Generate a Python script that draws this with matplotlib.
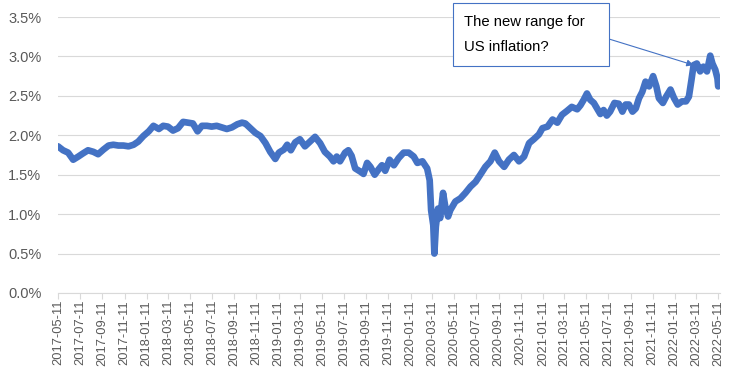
import numpy as np
import pandas as pd
import matplotlib
matplotlib.use("Agg")
import matplotlib.pyplot as plt
import matplotlib.dates as mdates
from matplotlib.ticker import PercentFormatter, MultipleLocator
from matplotlib.patches import Rectangle

# Fechas y valores (inflacion implicita, %)
fechas = [
    "2017-05-11", "2017-05-25", "2017-06-08", "2017-06-22", "2017-07-06", "2017-07-19",
    "2017-08-02", "2017-08-17", "2017-08-30", "2017-09-14", "2017-09-28", "2017-10-11",
    "2017-10-25", "2017-11-08", "2017-11-22", "2017-12-06", "2017-12-19", "2018-01-02",
    "2018-01-17", "2018-01-30", "2018-02-14", "2018-02-26", "2018-03-11", "2018-03-25",
    "2018-04-08", "2018-04-22", "2018-05-06", "2018-05-19", "2018-06-01", "2018-06-13",
    "2018-06-27", "2018-07-10", "2018-07-24", "2018-08-07", "2018-08-21", "2018-09-04",
    "2018-09-19", "2018-10-02", "2018-10-11", "2018-10-25", "2018-11-08", "2018-11-22",
    "2018-12-06", "2018-12-19", "2019-01-02", "2019-01-12", "2019-01-26", "2019-02-04",
    "2019-02-14", "2019-02-26", "2019-03-11", "2019-03-25", "2019-04-08", "2019-04-22",
    "2019-05-06", "2019-05-19", "2019-06-02", "2019-06-12", "2019-06-21", "2019-06-30",
    "2019-07-14", "2019-07-23", "2019-08-01", "2019-08-11", "2019-08-25", "2019-09-03",
    "2019-09-13", "2019-09-22", "2019-10-04", "2019-10-15", "2019-10-24", "2019-11-02",
    "2019-11-14", "2019-11-26", "2019-12-09", "2019-12-23", "2020-01-06", "2020-01-20",
    "2020-01-30", "2020-02-13", "2020-02-26", "2020-03-04", "2020-03-08", "2020-03-14",
    "2020-03-17", "2020-03-21", "2020-03-27", "2020-04-02", "2020-04-10", "2020-04-16",
    "2020-04-24", "2020-04-30", "2020-05-14", "2020-05-28", "2020-06-11", "2020-06-25",
    "2020-07-09", "2020-07-22", "2020-08-05", "2020-08-19", "2020-08-31", "2020-09-12",
    "2020-09-26", "2020-10-09", "2020-10-23", "2020-11-06", "2020-11-20", "2020-12-04",
    "2020-12-17", "2020-12-31", "2021-01-10", "2021-01-24", "2021-02-07", "2021-02-20",
    "2021-03-05", "2021-03-19", "2021-04-01", "2021-04-16", "2021-04-25", "2021-05-04",
    "2021-05-13", "2021-05-22", "2021-06-01", "2021-06-10", "2021-06-19", "2021-06-28",
    "2021-07-07", "2021-07-16", "2021-07-28", "2021-08-09", "2021-08-19", "2021-08-28",
    "2021-09-06", "2021-09-16", "2021-09-25", "2021-10-04", "2021-10-13", "2021-10-22",
    "2021-11-01", "2021-11-12", "2021-11-21", "2021-11-28", "2021-12-09", "2021-12-18",
    "2021-12-30", "2022-01-09", "2022-01-19", "2022-01-31", "2022-02-11", "2022-02-19",
    "2022-02-26", "2022-03-04", "2022-03-13", "2022-03-22", "2022-03-31", "2022-04-10",
    "2022-04-19", "2022-04-25", "2022-05-03", "2022-05-09", "2022-05-11",
]
valores = [
    1.86, 1.81, 1.78, 1.69, 1.73, 1.77,
    1.81, 1.79, 1.76, 1.82, 1.87, 1.88,
    1.87, 1.87, 1.86, 1.88, 1.92, 1.99,
    2.05, 2.12, 2.08, 2.12, 2.11, 2.06,
    2.09, 2.17, 2.16, 2.15, 2.05, 2.12,
    2.12, 2.11, 2.12, 2.10, 2.08, 2.10,
    2.14, 2.16, 2.15, 2.09, 2.03, 1.99,
    1.90, 1.79, 1.70, 1.78, 1.82, 1.88,
    1.81, 1.91, 1.95, 1.86, 1.92, 1.98,
    1.90, 1.79, 1.73, 1.67, 1.73, 1.67,
    1.78, 1.81, 1.74, 1.58, 1.54, 1.51,
    1.65, 1.60, 1.50, 1.57, 1.62, 1.55,
    1.69, 1.62, 1.71, 1.78, 1.78, 1.73,
    1.65, 1.67, 1.58, 1.43, 1.05, 0.86,
    0.50, 0.84, 1.07, 0.95, 1.27, 1.10,
    0.97, 1.05, 1.16, 1.20, 1.27, 1.35,
    1.41, 1.50, 1.60, 1.67, 1.78, 1.67,
    1.60, 1.69, 1.75, 1.67, 1.73, 1.90,
    1.95, 2.01, 2.09, 2.11, 2.20, 2.16,
    2.26, 2.31, 2.36, 2.33, 2.38, 2.45,
    2.53, 2.45, 2.41, 2.34, 2.27, 2.32,
    2.25, 2.30, 2.41, 2.40, 2.30, 2.39,
    2.39, 2.30, 2.34, 2.47, 2.55, 2.68,
    2.62, 2.75, 2.62, 2.47, 2.41, 2.49,
    2.58, 2.47, 2.39, 2.43, 2.43, 2.49,
    2.70, 2.89, 2.91, 2.81, 2.87, 2.81,
    3.01, 2.91, 2.83, 2.72, 2.62,
]

texto_nota = ["The new range for", "US inflation?"]
fecha_flecha = "2022-03-04"
valor_flecha = 2.89

fechas = pd.to_datetime(fechas)
azul = "#4472C4"
gris = "#595959"
plt.rcParams["font.family"] = ["Liberation Sans", "DejaVu Sans"]

fig = plt.figure(figsize=(7.36, 3.74), dpi=100)
ax = fig.add_axes([58 / 736, 1 - 293 / 374, 662 / 736, 276 / 374])

ax.plot(fechas, valores, color=azul, lw=4.8, solid_joinstyle="round",
        solid_capstyle="round", zorder=3)

# Ejes
ax.set_ylim(0, 3.5)
ax.yaxis.set_major_locator(MultipleLocator(0.5))
ax.yaxis.set_major_formatter(PercentFormatter(100, decimals=1))
ax.set_xlim(pd.Timestamp("2017-05-11"), pd.Timestamp("2022-05-16"))
ax.xaxis.set_major_locator(mdates.MonthLocator(bymonth=[1, 3, 5, 7, 9, 11], bymonthday=11))
ax.xaxis.set_major_formatter(mdates.DateFormatter("%Y-%m-%d"))
plt.setp(ax.get_xticklabels(), rotation=90)

ax.grid(axis="y", color="#D9D9D9", lw=0.8)
ax.set_axisbelow(True)
for s in ["top", "right", "left"]:
    ax.spines[s].set_visible(False)
ax.spines["bottom"].set_color("#D9D9D9")
ax.tick_params(axis="y", length=0, labelsize=10.5, labelcolor=gris, pad=12)
ax.tick_params(axis="x", length=4, color="#D9D9D9", labelsize=9.3, labelcolor=gris, pad=1)

# Cuadro de texto con flecha
caja = Rectangle((453 / 736, 1 - 66 / 374), 156 / 736, 63 / 374, transform=fig.transFigure,
                 facecolor="white", edgecolor=azul, lw=0.8, zorder=5, clip_on=False)
fig.patches.append(caja)
fig.text(464 / 736, 1 - 22 / 374, texto_nota[0], fontsize=10.7, color="black", va="center", zorder=6)
fig.text(464 / 736, 1 - 47 / 374, texto_nota[1], fontsize=10.7, color="black", va="center", zorder=6)

ax.annotate("", xy=(pd.Timestamp(fecha_flecha), valor_flecha), xycoords="data",
            xytext=(609 / 736, 1 - 39 / 374), textcoords="figure fraction",
            arrowprops=dict(arrowstyle="-|>", color=azul, lw=0.8, mutation_scale=10,
                            shrinkA=0, shrinkB=0),
            annotation_clip=False, zorder=6)

fig.savefig("out.png", dpi=100)
